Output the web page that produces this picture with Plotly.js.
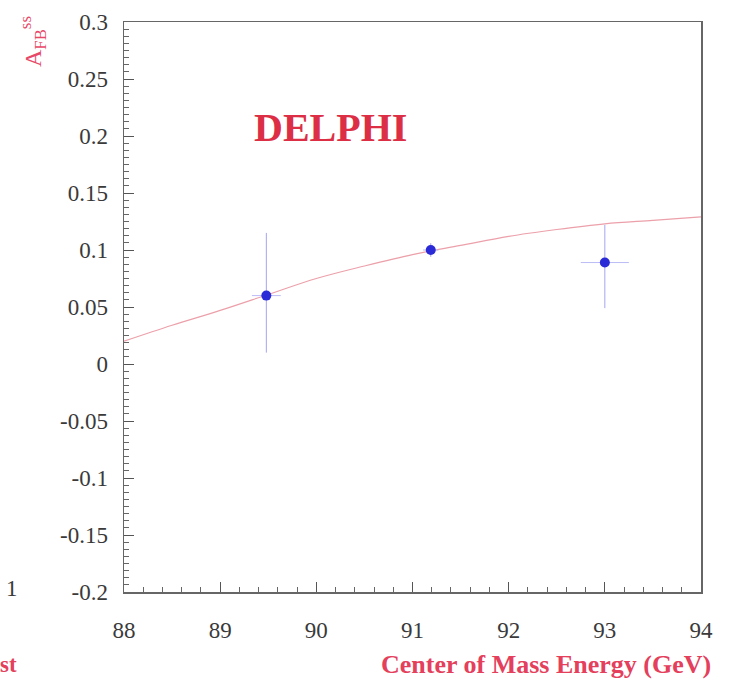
<!DOCTYPE html>
<html>
<head>
<meta charset="utf-8">
<script src="https://cdn.plot.ly/plotly-3.0.1.min.js"></script>
<style>html,body{margin:0;padding:0;background:#fff;}#chart{width:732px;height:680px;}</style>
</head>
<body>
<div id="chart"></div>
<script>
// Measured points (centre-of-mass energy in GeV, asymmetry)
var energy = [89.48, 91.19, 93.0];
var asym = [0.060, 0.100, 0.089];
var errUp = [0.055, 0.006, 0.033];
var errDown = [0.050, 0.006, 0.040];
var errE = [0.15, 0.08, 0.25];

// Theory curve
var curveE = [88, 88.5, 89, 89.5, 90, 90.5, 91, 91.5, 92, 92.5, 93, 93.5, 94];
var curveA = [0.020, 0.034, 0.047, 0.061, 0.075, 0.086, 0.096, 0.104, 0.112, 0.118, 0.123, 0.126, 0.129];

// Tick labels
var xTicks = [88, 89, 90, 91, 92, 93, 94];
var xTickText = ['88', '89', '90', '91', '92', '93', '94'];
var yTicks = [0.3, 0.25, 0.2, 0.15, 0.1, 0.05, 0, -0.05, -0.1, -0.15, -0.2];
var yTickText = ['0.3', '0.25', '0.2', '0.15', '0.1', '0.05', '0', '-0.05', '-0.1', '-0.15', '-0.2'];

var serif = 'Liberation Serif, Times New Roman, serif';

var traces = [
  {
    x: curveE, y: curveA, type: 'scatter', mode: 'lines',
    line: {color: '#eca0aa', width: 1.2, shape: 'spline'},
    hoverinfo: 'skip'
  },
  {
    x: energy, y: asym, type: 'scatter', mode: 'markers',
    marker: {color: '#2a2ad6', size: 10},
    error_y: {type: 'data', symmetric: false, array: errUp, arrayminus: errDown,
              color: '#a4a4f2', thickness: 1, width: 0},
    error_x: {type: 'data', array: errE, color: '#bcbcf6', thickness: 1, width: 0}
  }
];

var layout = {
  width: 732, height: 680,
  margin: {l: 124, r: 31, t: 22, b: 88},
  paper_bgcolor: '#fff', plot_bgcolor: '#fff',
  showlegend: false,
  font: {family: serif, color: '#3a3a3a', size: 23},
  xaxis: {
    range: [88, 94], tickvals: xTicks, ticktext: xTickText,
    ticks: 'inside', ticklen: 10, tickwidth: 1, tickcolor: '#555',
    minor: {dtick: 0.2, ticks: 'inside', ticklen: 5, tickcolor: '#666'},
    showgrid: false, zeroline: false,
    showline: true, linecolor: '#666', linewidth: 1.5, mirror: true,
    ticklabelstandoff: 17,
    tickfont: {family: serif, size: 23, color: '#3a3a3a'}
  },
  yaxis: {
    range: [-0.2, 0.3], tickvals: yTicks, ticktext: yTickText,
    ticks: 'inside', ticklen: 10, tickwidth: 1, tickcolor: '#555',
    minor: {dtick: 0.00625, ticks: 'inside', ticklen: 5, tickcolor: '#666'},
    showgrid: false, zeroline: false,
    showline: true, linecolor: '#666', linewidth: 1.5, mirror: true,
    ticklabelstandoff: 10,
    tickfont: {family: serif, size: 23, color: '#3a3a3a'}
  },
  annotations: [
    {text: '<b>DELPHI</b>', xref: 'paper', yref: 'paper', x: (330 - 124) / 577, y: (592 - 127) / 570,
     xanchor: 'center', yanchor: 'middle', showarrow: false,
     font: {family: serif, size: 40, color: '#dc2f45'}},
    {text: '<b>Center of Mass Energy (GeV)</b>', xref: 'paper', yref: 'paper', x: (713 - 124) / 577, y: (592 - 664) / 570,
     xanchor: 'right', yanchor: 'middle', showarrow: false,
     font: {family: serif, size: 26, color: '#e4405c'}},
    {text: 'A<sub>FB</sub><sup>ss</sup>', xref: 'paper', yref: 'paper', x: (33 - 124) / 577, y: (592 - 42) / 570,
     xanchor: 'center', yanchor: 'middle', showarrow: false, textangle: -90,
     font: {family: serif, size: 24, color: '#e84868'}},
    {text: '1', xref: 'paper', yref: 'paper', x: (12 - 124) / 577, y: (592 - 588) / 570,
     xanchor: 'center', yanchor: 'middle', showarrow: false,
     font: {family: serif, size: 23, color: '#3a3a3a'}},
    {text: '<b>st</b>', xref: 'paper', yref: 'paper', x: (19 - 124) / 577, y: (592 - 664) / 570,
     xanchor: 'right', yanchor: 'middle', showarrow: false,
     font: {family: serif, size: 23, color: '#e4405c'}}
  ]
};

Plotly.newPlot('chart', traces, layout, {staticPlot: true, displayModeBar: false});
</script>
</body>
</html>
